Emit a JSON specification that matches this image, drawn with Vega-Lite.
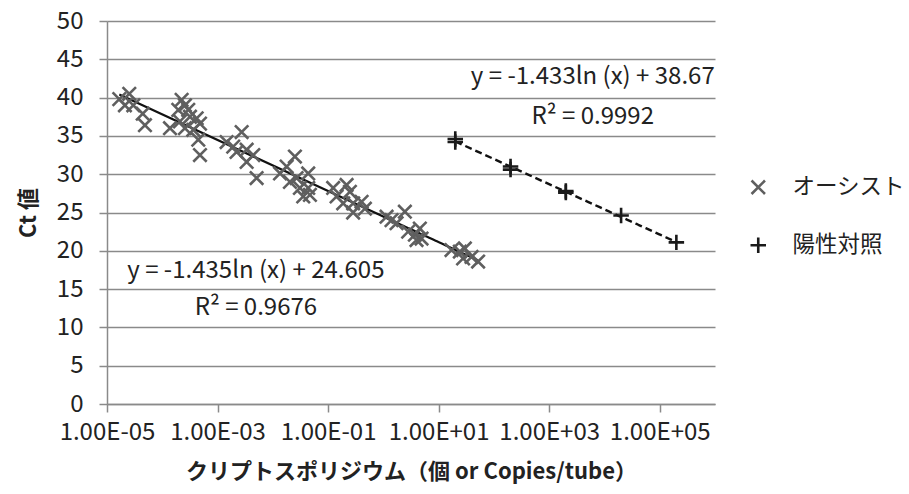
{
  "$schema": "https://vega.github.io/schema/vega-lite/v6.json",
  "autosize": {"type": "none"},
  "width": 608,
  "height": 383,
  "padding": {"left": 107, "top": 21, "right": 194, "bottom": 90},
  "background": "white",
  "config": {
    "font": "Noto Sans CJK JP",
    "view": {"stroke": null},
    "axis": {
      "labelFont": "Noto Sans CJK JP",
      "labelFontSize": 24,
      "labelColor": "#222222",
      "labelOverlap": false,
      "labelFlush": false,
      "titleFont": "Noto Sans CJK JP",
      "titleFontSize": 22,
      "titleFontWeight": "bold",
      "titleColor": "#222222",
      "domainColor": "#8a8a8a",
      "domainWidth": 1.5,
      "tickColor": "#8a8a8a",
      "tickWidth": 1.5,
      "tickSize": 8,
      "gridColor": "#8a8a8a",
      "gridWidth": 1.5
    },
    "legend": {
      "labelFont": "Noto Sans CJK JP",
      "labelFontSize": 22.5,
      "labelColor": "#222222"
    }
  },
  "datasets": {
    "points": [
      {"series": "オーシスト", "x": 1.67e-5, "y": 39.8},
      {"series": "オーシスト", "x": 2.53e-5, "y": 40.5},
      {"series": "オーシスト", "x": 2.11e-5, "y": 39.0},
      {"series": "オーシスト", "x": 2.99e-5, "y": 39.0},
      {"series": "オーシスト", "x": 4.43e-5, "y": 37.9},
      {"series": "オーシスト", "x": 4.86e-5, "y": 36.4},
      {"series": "オーシスト", "x": 2.24e-4, "y": 39.7},
      {"series": "オーシスト", "x": 2.57e-4, "y": 39.0},
      {"series": "オーシスト", "x": 1.95e-4, "y": 38.4},
      {"series": "オーシスト", "x": 2.95e-4, "y": 38.4},
      {"series": "オーシスト", "x": 3.17e-4, "y": 37.5},
      {"series": "オーシスト", "x": 1.38e-4, "y": 36.0},
      {"series": "オーシスト", "x": 2.09e-4, "y": 36.9},
      {"series": "オーシスト", "x": 2.57e-4, "y": 36.0},
      {"series": "オーシスト", "x": 4.19e-4, "y": 37.3},
      {"series": "オーシスト", "x": 4.81e-4, "y": 36.6},
      {"series": "オーシスト", "x": 3.64e-4, "y": 35.8},
      {"series": "オーシスト", "x": 4.48e-4, "y": 34.5},
      {"series": "オーシスト", "x": 4.81e-4, "y": 32.5},
      {"series": "オーシスト", "x": 1.46e-3, "y": 34.2},
      {"series": "オーシスト", "x": 1.92e-3, "y": 33.6},
      {"series": "オーシスト", "x": 2.73e-3, "y": 35.5},
      {"series": "オーシスト", "x": 2.21e-3, "y": 32.9},
      {"series": "オーシスト", "x": 3.36e-3, "y": 33.2},
      {"series": "オーシスト", "x": 3.36e-3, "y": 31.6},
      {"series": "オーシスト", "x": 4.43e-3, "y": 32.5},
      {"series": "オーシスト", "x": 5.09e-3, "y": 29.5},
      {"series": "オーシスト", "x": 0.0251, "y": 32.3},
      {"series": "オーシスト", "x": 0.0178, "y": 31.0},
      {"series": "オーシスト", "x": 0.0135, "y": 30.1},
      {"series": "オーシスト", "x": 0.0437, "y": 30.1},
      {"series": "オーシスト", "x": 0.0204, "y": 29.0},
      {"series": "オーシスト", "x": 0.0269, "y": 29.5},
      {"series": "オーシスト", "x": 0.0309, "y": 28.2},
      {"series": "オーシスト", "x": 0.0437, "y": 28.2},
      {"series": "オーシスト", "x": 0.0355, "y": 27.1},
      {"series": "オーシスト", "x": 0.0469, "y": 27.3},
      {"series": "オーシスト", "x": 0.1236, "y": 28.2},
      {"series": "オーシスト", "x": 0.216, "y": 28.6},
      {"series": "オーシスト", "x": 0.1426, "y": 27.1},
      {"series": "オーシスト", "x": 0.248, "y": 27.7},
      {"series": "オーシスト", "x": 0.1875, "y": 26.2},
      {"series": "オーシスト", "x": 0.284, "y": 26.2},
      {"series": "オーシスト", "x": 0.284, "y": 25.0},
      {"series": "オーシスト", "x": 0.404, "y": 26.4},
      {"series": "オーシスト", "x": 0.463, "y": 25.5},
      {"series": "オーシスト", "x": 1.143, "y": 24.45},
      {"series": "オーシスト", "x": 1.406, "y": 24.0},
      {"series": "オーシスト", "x": 1.734, "y": 23.6},
      {"series": "オーシスト", "x": 2.449, "y": 25.1},
      {"series": "オーシスト", "x": 2.81, "y": 22.5},
      {"series": "オーシスト", "x": 3.72, "y": 22.1},
      {"series": "オーシスト", "x": 4.57, "y": 22.9},
      {"series": "オーシスト", "x": 4.91, "y": 21.6},
      {"series": "オーシスト", "x": 3.98, "y": 21.4},
      {"series": "オーシスト", "x": 17.1, "y": 20.1},
      {"series": "オーシスト", "x": 24.2, "y": 19.9},
      {"series": "オーシスト", "x": 29.8, "y": 20.3},
      {"series": "オーシスト", "x": 27.7, "y": 19.0},
      {"series": "オーシスト", "x": 39.4, "y": 19.2},
      {"series": "オーシスト", "x": 51.8, "y": 18.6},
      {"series": "陽性対照", "x": 20, "y": 34.6},
      {"series": "陽性対照", "x": 20, "y": 34.2},
      {"series": "陽性対照", "x": 200, "y": 31.0},
      {"series": "陽性対照", "x": 200, "y": 30.6},
      {"series": "陽性対照", "x": 2000, "y": 27.8},
      {"series": "陽性対照", "x": 2000, "y": 27.6},
      {"series": "陽性対照", "x": 20000, "y": 24.6},
      {"series": "陽性対照", "x": 200000, "y": 21.1}
    ],
    "labels": [
      {"x": 0.00494, "y": 17.3, "text": "y = -1.435ln (x) + 24.605"},
      {"x": 0.00494, "y": 12.5, "text": "R² = 0.9676"},
      {"x": 6150, "y": 42.75, "text": "y = -1.433ln (x) + 38.67"},
      {"x": 6150, "y": 37.5, "text": "R² = 0.9992"}
    ]
  },
  "encoding": {
    "x": {
      "field": "x", "type": "quantitative",
      "scale": {"type": "log", "domain": [0.00001, 1000000], "nice": false},
      "axis": {
        "values": [0.00001, 0.001, 0.1, 10, 1000, 100000],
        "tickCount": 12,
        "labelExpr": "'1.00E' + (datum.value < 1 ? '-' : '+') + '0' + abs(round(log(datum.value)/LN10))",
        "grid": false,
        "labelOverlap": false,
        "labelFlush": false,
        "labelPadding": 8,
        "title": "クリプトスポリジウム（個 or Copies/tube）",
        "titlePadding": 17
      }
    },
    "y": {
      "field": "y", "type": "quantitative",
      "scale": {"domain": [0, 50], "nice": false, "zero": true},
      "axis": {
        "values": [0, 5, 10, 15, 20, 25, 30, 35, 40, 45, 50],
        "tickCount": 20,
        "grid": true,
        "labelOverlap": false,
        "labelFlush": false,
        "labelPadding": 16,
        "title": "Ct 値",
        "titlePadding": 16
      }
    }
  },
  "layer": [
    {
      "data": {"name": "points"},
      "transform": [
        {"filter": "datum.series === 'オーシスト'"},
        {"regression": "y", "on": "x", "method": "log"}
      ],
      "mark": {"type": "line", "color": "#111111", "strokeWidth": 2.2}
    },
    {
      "data": {"name": "points"},
      "transform": [
        {"filter": "datum.series === '陽性対照'"},
        {"regression": "y", "on": "x", "method": "log"}
      ],
      "mark": {"type": "line", "color": "#111111", "strokeWidth": 2.4, "strokeDash": [7, 4]}
    },
    {
      "data": {"name": "points"},
      "mark": {"type": "point", "filled": false, "strokeWidth": 2.6, "opacity": 1},
      "encoding": {
        "size": {
          "field": "series", "type": "nominal",
          "scale": {"domain": ["オーシスト", "陽性対照"], "range": [180, 240]},
          "legend": null
        },
        "color": {
          "field": "series", "type": "nominal",
          "scale": {"domain": ["オーシスト", "陽性対照"], "range": ["#5f5f5f", "#1a1a1a"]},
          "legend": {
            "title": null,
            "orient": "none",
            "legendX": 640,
            "legendY": 155,
            "padding": 0,
            "symbolSize": 120,
            "symbolStrokeWidth": 2.6,
            "labelOffset": 23,
            "rowPadding": 32
          }
        },
        "shape": {
          "field": "series", "type": "nominal",
          "scale": {"domain": ["オーシスト", "陽性対照"], "range": ["M-1,-1L1,1M-1,1L1,-1", "M-1,0L1,0M0,-1L0,1"]}
        }
      }
    },
    {
      "data": {"name": "labels"},
      "mark": {"type": "text", "font": "Noto Sans CJK JP", "fontSize": 24, "color": "#222222", "align": "center", "baseline": "middle"},
      "encoding": {
        "text": {"field": "text"}
      }
    }
  ]
}
